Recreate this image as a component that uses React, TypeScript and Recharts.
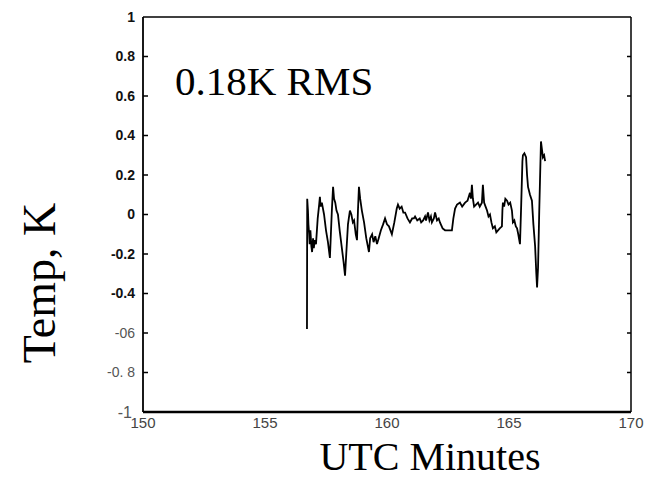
import { Line, LineChart, XAxis, YAxis } from "recharts";

// minutes UTC and temperature residual (K)
const minutes = [
  156.72, 156.73, 156.76, 156.78, 156.81, 156.83, 156.86, 156.9, 156.93, 156.97,
  157.0, 157.04, 157.09, 157.16, 157.22, 157.25, 157.28, 157.33, 157.42, 157.5,
  157.58, 157.66, 157.7, 157.74, 157.79, 157.83, 157.88, 157.93, 157.99, 158.06,
  158.14, 158.22, 158.28, 158.33, 158.4, 158.48, 158.54, 158.6, 158.65, 158.72,
  158.77, 158.81, 158.85, 158.9, 158.97, 159.06, 159.15, 159.26, 159.31, 159.39,
  159.45, 159.52, 159.59, 159.66, 159.75, 159.84, 159.92, 160.0, 160.08, 160.2,
  160.3, 160.4, 160.45, 160.52, 160.6, 160.67, 160.74, 160.84, 160.94, 161.03,
  161.1, 161.15, 161.24, 161.34, 161.4, 161.48, 161.56, 161.6, 161.68, 161.74,
  161.8, 161.84, 161.92, 161.97, 162.05, 162.12, 162.17, 162.28, 162.38, 162.52,
  162.66, 162.72, 162.79, 162.87, 162.99, 163.08, 163.2, 163.3, 163.4, 163.44,
  163.48, 163.52, 163.57, 163.65, 163.73, 163.8, 163.89, 163.93, 163.98, 164.04,
  164.1, 164.16, 164.22, 164.28, 164.34, 164.42, 164.48, 164.55, 164.62, 164.71,
  164.73, 164.75, 164.8, 164.85, 164.92, 164.98, 165.05, 165.12, 165.16, 165.22,
  165.28, 165.33, 165.38, 165.45, 165.5, 165.55, 165.57, 165.63, 165.7, 165.74,
  165.78, 165.86, 165.94, 166.0, 166.07, 166.12, 166.15, 166.19, 166.24, 166.27,
  166.31, 166.35, 166.39, 166.44, 166.48,
];

const tempK = [
  -0.58, 0.08, 0.02, -0.05, -0.1, -0.15, -0.08, -0.16, -0.19, -0.12,
  -0.17, -0.13, -0.15, -0.02, 0.05, 0.09, 0.04, 0.06, 0.0, -0.08,
  -0.14, -0.22, -0.1, 0.02, 0.14, 0.08, 0.06, 0.02, 0.0, -0.08,
  -0.16, -0.24, -0.31, -0.2, -0.05, 0.02, 0.0, -0.04, -0.03, -0.1,
  -0.13, 0.02, 0.14, 0.08, 0.02, -0.04, -0.12, -0.19, -0.12, -0.1,
  -0.14, -0.11, -0.15, -0.12, -0.08, -0.05, -0.02, -0.05, -0.06, -0.1,
  -0.04, 0.03, 0.05, 0.03, 0.04, 0.01, 0.01, -0.02, -0.04, -0.02,
  -0.02, -0.01, -0.03, -0.02, -0.04, -0.03, -0.01, -0.03, 0.01, -0.03,
  -0.01, -0.04, -0.02, 0.01, -0.03, -0.02, -0.04, -0.07, -0.08, -0.08,
  -0.08, -0.02, 0.03, 0.05, 0.06, 0.04, 0.06, 0.07, 0.11, 0.08,
  0.15, 0.08, 0.04, 0.05, 0.06, 0.04, 0.06, 0.15, 0.06, 0.04,
  0.02, -0.01, 0.0, -0.04, -0.07, -0.06, -0.09, -0.08, -0.07, -0.06,
  0.02, 0.06, 0.04, 0.08, 0.07, 0.05, 0.06, 0.02, -0.04, -0.03,
  -0.06, -0.07, -0.1, -0.15, 0.05, 0.27, 0.3, 0.31, 0.29, 0.2,
  0.14, 0.1, 0.07, -0.05, -0.16, -0.3, -0.37, -0.27, 0.02, 0.17,
  0.37, 0.33, 0.29, 0.3, 0.27,
];

const yTicks = [-1, -0.8, -0.6, -0.4, -0.2, 0, 0.2, 0.4, 0.6, 0.8, 1];
const yTickLabels = ["-1", "-0. 8", "-06", "-0.4", "-0.2", "0", "0.2", "0.4", "0.6", "0.8", "1"];
const xTicks = [150, 155, 160, 165, 170];

const data = minutes.map((t, i) => ({ t, v: tempK[i] }));

const W = 654;
const H = 491;
const margin = { top: 17, right: 23, left: 83, bottom: 49 };
const yAxisWidth = 60;
const plotLeft = margin.left + yAxisWidth;
const plotRight = W - margin.right;

// label + the small inward tick marks on both frame sides
const YTick = (props: any) => {
  const { x, y, payload } = props;
  const i = yTicks.indexOf(payload.value);
  const faded = payload.value <= -0.6;
  const isEnd = Math.abs(payload.value) === 1;
  return (
    <g>
      <text
        x={payload.value === -1 ? x - 3 : x}
        y={y}
        dy="0.35em"
        textAnchor="end"
        fontFamily="Liberation Sans, Arial"
        fontSize={payload.value === -1 ? 16 : 14}
        fontWeight={faded ? 400 : 700}
        fill={faded ? "#555" : "#111"}
      >
        {yTickLabels[i]}
      </text>
      {!isEnd && (
        <>
          <line x1={plotLeft} x2={plotLeft + 5} y1={y} y2={y} stroke="#000" strokeWidth={1.5} />
          <line x1={plotRight - 4} x2={plotRight} y1={y} y2={y} stroke="#000" strokeWidth={1.5} />
        </>
      )}
    </g>
  );
};

const blank = () => "";

export default function App() {
  return (
    <div style={{ position: "absolute", left: 0, top: 0, width: W, height: H, background: "#fff" }}>
      <LineChart width={W} height={H} data={data} margin={margin}>
        <XAxis
          dataKey="t"
          type="number"
          domain={[150, 170]}
          ticks={xTicks}
          tickLine={false}
          tickSize={0}
          tickMargin={5}
          height={30}
          axisLine={{ stroke: "#000", strokeWidth: 2.5 }}
          tick={{ fontSize: 15, fill: "#444", fontFamily: "Liberation Sans, Arial" }}
        />
        <XAxis
          xAxisId="top"
          dataKey="t"
          type="number"
          orientation="top"
          mirror
          domain={[150, 170]}
          tickLine={false}
          tickFormatter={blank}
          axisLine={{ stroke: "#000", strokeWidth: 1.5 }}
        />
        <YAxis
          yAxisId="l"
          type="number"
          domain={[-1, 1]}
          ticks={yTicks}
          width={yAxisWidth}
          tickLine={false}
          axisLine={{ stroke: "#000", strokeWidth: 1.8 }}
          tick={<YTick />}
        />
        <YAxis
          yAxisId="r"
          type="number"
          orientation="right"
          mirror
          domain={[-1, 1]}
          tickLine={false}
          axisLine={{ stroke: "#000", strokeWidth: 1.5 }}
          tickFormatter={blank}
        />
        <Line
          yAxisId="l"
          dataKey="v"
          type="linear"
          stroke="#000"
          strokeWidth={1.8}
          dot={false}
          isAnimationActive={false}
        />
      </LineChart>
      <svg
        width={W}
        height={H}
        style={{ position: "absolute", left: 0, top: 0, pointerEvents: "none" }}
        fontFamily="Liberation Serif, Times New Roman, serif"
      >
        <text x={175} y={95} fontSize={41} fill="#000">
          0.18K RMS
        </text>
        <text transform="translate(55,283) rotate(-90)" textAnchor="middle" fontSize={46} fill="#000">
          Temp, K
        </text>
        <text x={430} y={470} textAnchor="middle" fontSize={40} fill="#000">
          UTC Minutes
        </text>
      </svg>
    </div>
  );
}
